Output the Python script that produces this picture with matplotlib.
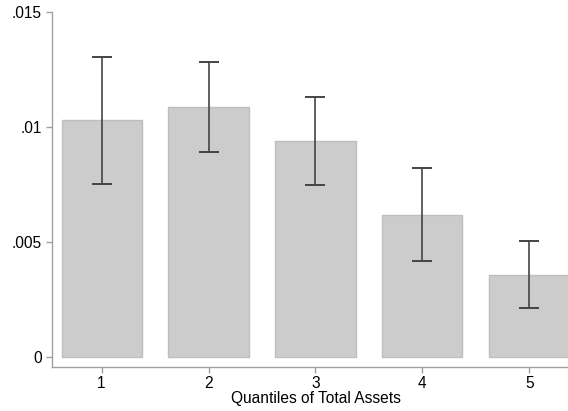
import numpy as np
import matplotlib.pyplot as plt

plt.rcParams['font.family'] = ['Liberation Sans', 'DejaVu Sans']

quantiles = [1, 2, 3, 4, 5]
means = [0.01032, 0.01090, 0.00941, 0.00619, 0.00358]
ci_low = [0.00753, 0.00894, 0.00748, 0.00418, 0.00213]
ci_high = [0.01308, 0.01286, 0.01131, 0.00824, 0.00506]
yticks = [0, 0.005, 0.01, 0.015]
ytick_labels = ['0', '.005', '.01', '.015']

fig = plt.figure(figsize=(5.68, 4.11), dpi=100)
ax = fig.add_axes([0.091, 0.108, 0.909, 0.8618])

ax.bar(quantiles, means, width=0.75, color='#cccccc', edgecolor='#bebebe', linewidth=1.0)
means = np.array(means)
yerr = [means - np.array(ci_low), np.array(ci_high) - means]
ax.errorbar(quantiles, means, yerr=yerr, fmt='none', ecolor='#444444',
            elinewidth=1.2, capsize=7, capthick=1.4)

ax.set_xlim(0.533, 5.362)
ax.set_ylim(-0.00041, 0.015)
ax.set_xticks(quantiles)
ax.set_yticks(yticks)
ax.set_yticklabels(ytick_labels)

for s in ['top', 'right']:
    ax.spines[s].set_visible(False)
for s in ['left', 'bottom']:
    ax.spines[s].set_color('#a0a0a0')
    ax.spines[s].set_linewidth(1.0)
ax.tick_params(axis='both', colors='#a0a0a0', labelcolor='black', length=4,
               width=1.0, labelsize=11.2, pad=3)

ax.set_xlabel('Quantiles of Total Assets', fontsize=11.2, labelpad=1)
ax.xaxis.set_label_coords(0.5113, -0.07)

fig.savefig('out.png', dpi=100)
